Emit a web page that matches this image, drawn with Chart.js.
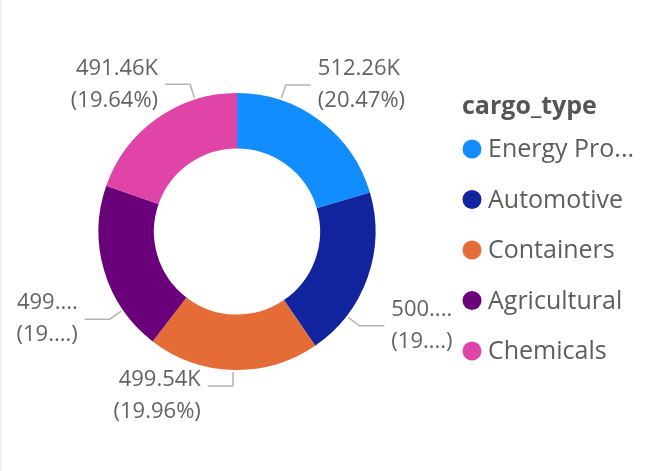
<!DOCTYPE html>
<html>
<head>
<meta charset="utf-8">
<script src="https://cdn.jsdelivr.net/npm/chart.js@4"></script>
<style>
  html, body { margin: 0; padding: 0; background: #fff; }
  #wrap { position: relative; width: 660px; height: 471px; }
  #edge { position: absolute; left: 0; top: 0; width: 2px; height: 471px; background: #eaf3fe; }
</style>
</head>
<body>
<div id="wrap">
  <canvas id="chart" width="660" height="471"></canvas>
  <div id="edge"></div>
</div>
<script>
const legendTitle = 'cargo_type';
const cargoTypes = ['Energy Products', 'Automotive', 'Containers', 'Agricultural', 'Chemicals'];
const cargoValues = [512260, 500020, 499540, 499220, 491460];
const sliceColors = ['#118DFF', '#12239E', '#E66C37', '#6B007B', '#E044A7'];

const total = cargoValues.reduce((a, b) => a + b, 0);
const fmtValue = v => (v / 1000).toFixed(2) + 'K';
const fmtPct = v => (v / total * 100).toFixed(2) + '%';

// shorten with an ellipsis until it fits the room left
function fitText(ctx, text, maxW, wrap) {
  const full = wrap ? '(' + text + ')' : text;
  if (ctx.measureText(full).width <= maxW) return full;
  for (let n = text.length - 1; n > 0; n--) {
    const t = text.slice(0, n) + '...';
    const s = wrap ? '(' + t + ')' : t;
    if (ctx.measureText(s).width <= maxW) return s;
  }
  return wrap ? '(...)' : '...';
}

// value + percent labels outside the ring, with leader lines
const outsideLabels = {
  id: 'outsideLabels',
  afterDatasetsDraw(chart, args, opts) {
    const ctx = chart.ctx;
    const meta = chart.getDatasetMeta(0);
    const data = chart.data.datasets[0].data;
    ctx.save();
    ctx.font = opts.font;
    meta.data.forEach((arc, i) => {
      const p = arc.getProps(['x', 'y', 'startAngle', 'endAngle', 'outerRadius'], true);
      const a = p.startAngle + (p.endAngle - p.startAngle) * opts.anchorAt[i];
      const cos = Math.cos(a), sin = Math.sin(a);
      const x0 = p.x + cos * (p.outerRadius + 2), y0 = p.y + sin * (p.outerRadius + 2);
      const x1 = p.x + cos * (p.outerRadius + opts.elbow), y1 = p.y + sin * (p.outerRadius + opts.elbow);
      const left = cos < 0;
      const x2 = x1 + (left ? -opts.arm : opts.arm);
      ctx.strokeStyle = opts.lineColor;
      ctx.lineWidth = 1.5;
      ctx.beginPath();
      ctx.moveTo(x0, y0);
      ctx.lineTo(x1, y1);
      ctx.lineTo(x2, y1);
      ctx.stroke();

      const tx = x2 + (left ? -opts.gap : opts.gap);
      const maxW = left ? tx - opts.minX : opts.maxX - tx;
      const dy = sin > 0.9 ? opts.lineGap * 0.3 : 0;
      ctx.textAlign = left ? 'right' : 'left';
      ctx.textBaseline = 'middle';
      ctx.fillStyle = opts.color;
      ctx.fillText(fitText(ctx, fmtValue(data[i]), maxW, false), tx, y1 + dy - opts.lineGap / 2);
      ctx.fillText(fitText(ctx, fmtPct(data[i]), maxW, true), tx, y1 + dy + opts.lineGap / 2);
    });
    ctx.restore();
  }
};

// legend on the right with round markers
const sideLegend = {
  id: 'sideLegend',
  afterDraw(chart, args, opts) {
    const ctx = chart.ctx;
    const ds = chart.data.datasets[0];
    ctx.save();
    ctx.textBaseline = 'middle';
    ctx.textAlign = 'left';
    ctx.fillStyle = opts.titleColor;
    ctx.font = 'bold ' + opts.size + 'px "Open Sans", sans-serif';
    ctx.fillText(opts.title, opts.x, opts.titleY);
    ctx.font = opts.size + 'px "Open Sans", sans-serif';
    chart.data.labels.forEach((lab, i) => {
      const y = opts.firstY + i * opts.step;
      ctx.fillStyle = ds.backgroundColor[i];
      ctx.beginPath();
      ctx.arc(opts.x + 10, y, 9.5, 0, Math.PI * 2);
      ctx.fill();
      ctx.fillStyle = opts.color;
      const tx = opts.x + 26;
      ctx.fillText(fitText(ctx, lab, opts.maxX - tx, false), tx, y + 1);
    });
    ctx.restore();
  }
};

new Chart(document.getElementById('chart'), {
  type: 'doughnut',
  data: {
    labels: cargoTypes,
    datasets: [{
      data: cargoValues,
      backgroundColor: sliceColors,
      borderWidth: 0
    }]
  },
  options: {
    responsive: false,
    animation: false,
    events: [],
    cutout: '60%',
    layout: { padding: { left: 98, right: 284, top: 93, bottom: 101 } },
    plugins: {
      legend: { display: false },
      tooltip: { enabled: false },
      outsideLabels: {
        font: '22px "Open Sans", sans-serif',
        color: '#636363',
        lineColor: '#b4b4b4',
        anchorAt: [0.25, 0.75, 0.5, 0.25, 0.75],
        elbow: 16,
        arm: 25,
        gap: 7,
        lineGap: 32,
        minX: 8,
        maxX: 460
      },
      sideLegend: {
        title: legendTitle,
        x: 462,
        titleY: 107,
        firstY: 149,
        step: 50.5,
        size: 25,
        maxX: 642,
        color: '#5f5d5b',
        titleColor: '#555555'
      }
    }
  },
  plugins: [outsideLabels, sideLegend]
});
</script>
</body>
</html>
